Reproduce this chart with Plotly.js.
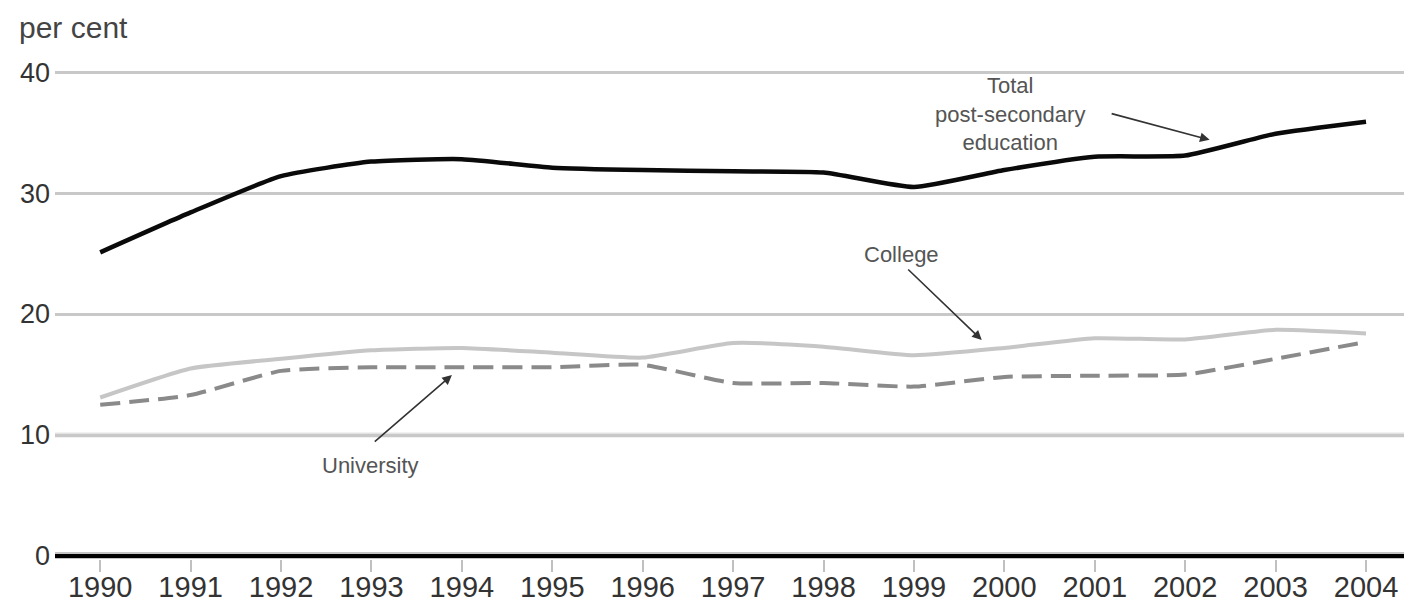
<!DOCTYPE html>
<html>
<head>
<meta charset="utf-8">
<script src="https://cdn.plot.ly/plotly-3.0.1.min.js"></script>
<style>html,body{margin:0;padding:0;background:#fff;}#chart{width:1404px;height:602px;}</style>
</head>
<body>
<div id="chart"></div>
<script>
const years = [1990,1991,1992,1993,1994,1995,1996,1997,1998,1999,2000,2001,2002,2003,2004];
const totalPost = [25.1,28.4,31.4,32.6,32.8,32.1,31.9,31.8,31.7,30.5,31.9,33.0,33.1,34.9,35.9];
const college = [13.1,15.5,16.3,17.0,17.2,16.8,16.4,17.6,17.3,16.6,17.2,18.0,17.9,18.7,18.4];
const university = [12.5,13.3,15.3,15.6,15.6,15.6,15.8,14.3,14.3,14.0,14.8,14.9,15.0,16.3,17.7];
const yTicks = [0,10,20,30,40];
const yAxisLabel = 'per cent';
const labelTotal = 'Total<br>post-secondary<br>education';
const labelCollege = 'College';
const labelUniversity = 'University';

const FONT = 'Liberation Sans, Arial, sans-serif';

const traces = [
  {x: years, y: college, type: 'scatter', mode: 'lines', name: 'College',
   line: {color: '#c6c6c6', width: 4, shape: 'spline', smoothing: 0.5}},
  {x: years, y: university, type: 'scatter', mode: 'lines', name: 'University',
   line: {color: '#8a8a8a', width: 4, dash: '20px,9px', shape: 'spline', smoothing: 0.5}},
  {x: years, y: totalPost, type: 'scatter', mode: 'lines', name: 'Total post-secondary education',
   line: {color: '#0a0a0a', width: 4.5, shape: 'spline', smoothing: 0.5}}
];

const annText = {font: {family: FONT, size: 22, color: '#555'}, showarrow: false, xref: 'x', yref: 'y'};
const annArrow = {text: '', showarrow: true, arrowhead: 2, arrowsize: 1.2, arrowwidth: 1.6,
  arrowcolor: '#333', xref: 'x', yref: 'y', axref: 'x', ayref: 'y', standoff: 0, startstandoff: 0};

const layout = {
  width: 1404, height: 602,
  margin: {l: 55, r: 0, t: 60, b: 43},
  paper_bgcolor: '#ffffff', plot_bgcolor: '#ffffff',
  showlegend: false,
  font: {family: FONT, color: '#333'},
  xaxis: {
    range: [1989.5, 2004.42], tickvals: years, ticktext: years.map(String),
    ticks: 'outside', ticklen: 12, tickwidth: 2, tickcolor: '#c0c0c0',
    ticklabelstandoff: -10,
    tickfont: {family: FONT, size: 29, color: '#333'},
    showgrid: false, zeroline: false, showline: false, automargin: false, fixedrange: true
  },
  yaxis: {
    range: [-0.25, 41], tickvals: yTicks, ticktext: yTicks.map(String),
    showgrid: true, gridcolor: '#c8c8c8', gridwidth: 3,
    zeroline: false, showline: false, ticks: '', ticklabelstandoff: 4,
    tickfont: {family: FONT, size: 27, color: '#333'}, automargin: false, fixedrange: true
  },
  shapes: [
    {type: 'line', xref: 'paper', yref: 'y', x0: 0, x1: 1, y0: 10, y1: 10,
     line: {color: '#e3e3e3', width: 5}, layer: 'below'},
    {type: 'line', xref: 'paper', yref: 'y', x0: 0, x1: 1, y0: 0, y1: 0,
     line: {color: '#c4c4c4', width: 8}, layer: 'below'},
    {type: 'line', xref: 'paper', yref: 'y', x0: 0, x1: 1, y0: 0, y1: 0,
     line: {color: '#000000', width: 4}, layer: 'above'}
  ],
  annotations: [
    {text: yAxisLabel, xref: 'paper', yref: 'paper', x: -0.028, y: 1.066,
     xanchor: 'left', yanchor: 'middle', showarrow: false,
     font: {family: FONT, size: 30, color: '#444'}},
    Object.assign({}, annText, {text: labelTotal, x: 2000.06, y: 36.5, xanchor: 'center', yanchor: 'middle', align: 'center'}),
    Object.assign({}, annArrow, {x: 2002.27, y: 34.4, ax: 2001.17, ay: 36.6}),
    Object.assign({}, annText, {text: labelCollege, x: 1998.86, y: 24.96, xanchor: 'center', yanchor: 'middle'}),
    Object.assign({}, annArrow, {x: 1999.75, y: 17.85, ax: 1998.92, ay: 23.8}),
    Object.assign({}, annText, {text: labelUniversity, x: 1992.99, y: 7.52, xanchor: 'center', yanchor: 'middle'}),
    Object.assign({}, annArrow, {x: 1993.89, y: 14.96, ax: 1993.02, ay: 9.34})
  ]
};

Plotly.newPlot('chart', traces, layout, {displayModeBar: false, staticPlot: true});
</script>
</body>
</html>
